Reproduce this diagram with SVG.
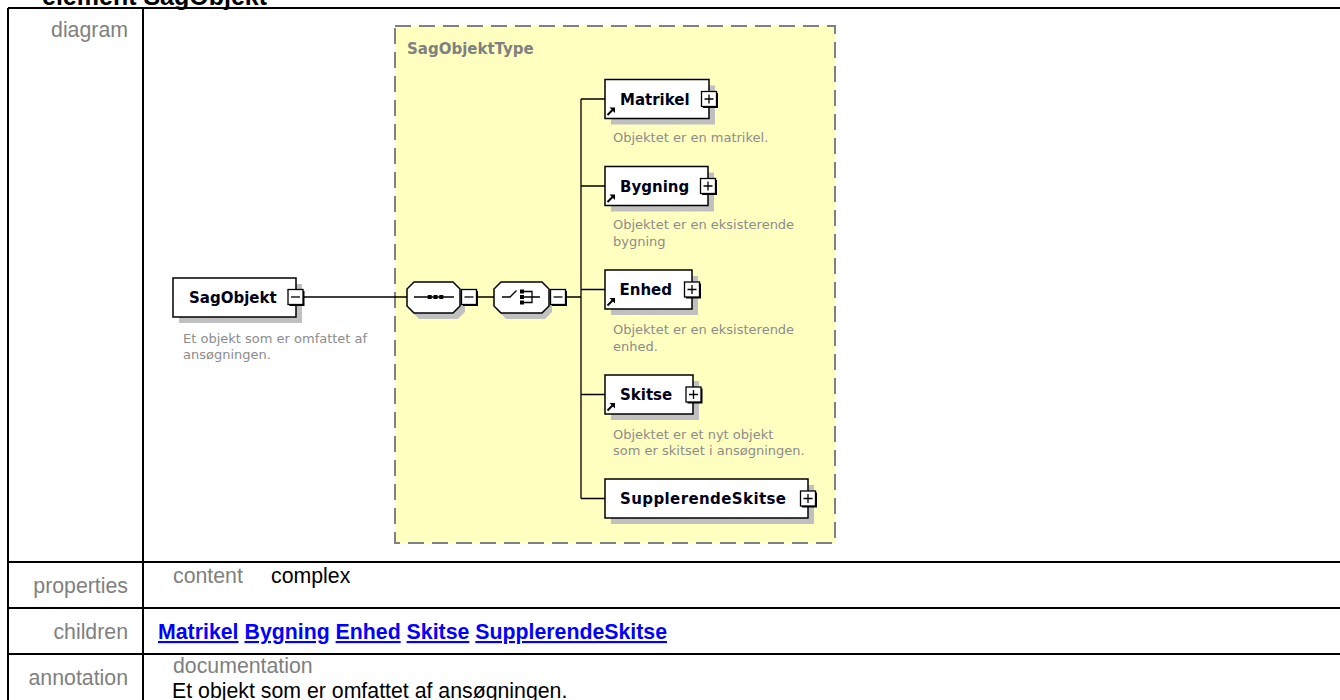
<svg xmlns="http://www.w3.org/2000/svg" xmlns:xlink="http://www.w3.org/1999/xlink" width="1340" height="700" viewBox="0 0 1340 700">
<style>
.title{font-family:"Liberation Sans",Arial,sans-serif;font-weight:bold;font-size:25px;fill:#000}
.lbl{font-family:"Liberation Sans",Arial,sans-serif;font-size:21.3px;fill:#808080}
.val{font-family:"Liberation Sans",Arial,sans-serif;font-size:21.3px;fill:#000}
.lnk{font-family:"Liberation Sans",Arial,sans-serif;font-size:21.3px;font-weight:bold;fill:#0000ff;text-decoration:underline}
.grid{stroke:#000;stroke-width:2;fill:none}
.nm{font-family:"DejaVu Sans",Verdana,sans-serif;font-weight:bold;font-size:15px;fill:#000018}
.tn{font-family:"DejaVu Sans",Verdana,sans-serif;font-weight:bold;font-size:15px;fill:#808080}
.ds{font-family:"DejaVu Sans",Verdana,sans-serif;font-size:13px;fill:#8c8c8c}
.box{fill:#fff;stroke:#000;stroke-width:1.5}
.sh{fill:#c0c0c0}
.conn{stroke:#000;stroke-width:1.3;fill:none}
.ctype{fill:#ffffc0;stroke:#808080;stroke-width:2;stroke-dasharray:16 8}
</style>
<defs>
<g id="btnplus"><rect x="-6" y="-6" width="15" height="15" fill="#000"/><rect x="-7.5" y="-7.5" width="15" height="15" fill="#fff" stroke="#000" stroke-width="1.3"/><path d="M-4.5 0H4.5M0 -4.5V4.5" stroke="#000" stroke-width="1.3"/></g>
<g id="btnminus"><rect x="-6" y="-6" width="15" height="15" fill="#000"/><rect x="-7.5" y="-7.5" width="15" height="15" fill="#fff" stroke="#000" stroke-width="1.3"/><path d="M-4.5 0H4.5" stroke="#000" stroke-width="1.3"/></g>
<g id="refarrow"><path d="M0.5 7.5L5.5 2.5" stroke="#000" stroke-width="2"/><path d="M2.5 0H8V5.5Z" fill="#000"/></g>
</defs>
<rect width="1340" height="700" fill="#fff"/>
<text class="title" x="42" y="4.5">element SagObjekt</text>
<g id="table">
<path class="grid" d="M8 8H1342M8 8V702M143 8V702M8 562H1342M8 608H1342M8 654H1342"/>
<text class="lbl" x="128" y="37" text-anchor="end">diagram</text>
<text class="lbl" x="128" y="593" text-anchor="end">properties</text>
<text class="lbl" x="173" y="583">content</text>
<text class="val" x="271" y="583">complex</text>
<text class="lbl" x="128" y="639" text-anchor="end">children</text>
<text class="lnk" x="158" y="639">Matrikel</text>
<text class="lnk" x="244.5" y="639">Bygning</text>
<text class="lnk" x="335.6" y="639">Enhed</text>
<text class="lnk" x="406.6" y="639">Skitse</text>
<text class="lnk" x="475.3" y="639">SupplerendeSkitse</text>
<text class="lbl" x="128" y="685" text-anchor="end">annotation</text>
<text class="lbl" x="173" y="673">documentation</text>
<text class="val" x="172" y="698">Et objekt som er omfattet af ansøgningen.</text>
</g>
<g id="SagObjektType">
<rect class="ctype" x="395" y="26" width="440" height="517"/>
<text class="tn" x="407" y="54">SagObjektType</text>
</g>
<g id="connectors">
<path class="conn" d="M303 297H407M477 297H494M566 297H581M581 99V498.5M581 99H605M581 186H605M581 289.5H605M581 394.5H605M581 498.5H605"/>
</g>
<g id="SagObjekt">
<rect class="sh" x="179" y="284" width="123" height="39"/>
<rect class="box" x="173" y="278" width="123" height="39"/>
<text class="nm" x="189" y="303">SagObjekt</text>
<use xlink:href="#btnminus" x="295.5" y="297"/>
<text class="ds" x="183" y="342.5">Et objekt som er omfattet af</text>
<text class="ds" x="183" y="359">ansøgningen.</text>
</g>
<g id="sequence">
<path class="sh" d="M419 288H458L465 295V312L458 319H419L412 312V295Z"/>
<path class="box" d="M414 282H453L460 289V306L453 313H414L407 306V289Z"/>
<path d="M414 297H454" stroke="#000" stroke-width="1.3"/>
<rect x="427.7" y="295" width="4" height="4" fill="#000"/>
<rect x="433.5" y="295" width="4" height="4" fill="#000"/>
<rect x="439.3" y="295" width="4" height="4" fill="#000"/>
<use xlink:href="#btnminus" x="469" y="297"/>
</g>
<g id="choice">
<path class="sh" d="M506 288H545L552 295V312L545 319H506L499 312V295Z"/>
<path class="box" d="M501 282H542L549 289V306L542 313H501L494 306V289Z"/>
<path d="M502 297H510L516.5 290.5M524 291.5H532V302.5H524M524 297H540" stroke="#000" stroke-width="1.3" fill="none"/>
<rect x="520" y="289.5" width="4" height="4" fill="#000"/>
<rect x="520" y="295" width="4" height="4" fill="#000"/>
<rect x="520" y="300.5" width="4" height="4" fill="#000"/>
<use xlink:href="#btnminus" x="558" y="297"/>
</g>
<g id="Matrikel">
<rect class="sh" x="611" y="85.5" width="104" height="39"/>
<rect class="box" x="605" y="79.5" width="104" height="39"/>
<text class="nm" x="620" y="104.5">Matrikel</text>
<use xlink:href="#refarrow" x="607" y="107.5"/>
<use xlink:href="#btnplus" x="709" y="99"/>
<text class="ds" x="613" y="142">Objektet er en matrikel.</text>
</g>
<g id="Bygning">
<rect class="sh" x="611" y="172.5" width="103" height="39"/>
<rect class="box" x="605" y="166.5" width="103" height="39"/>
<text class="nm" x="620" y="191.5">Bygning</text>
<use xlink:href="#refarrow" x="607" y="194.5"/>
<use xlink:href="#btnplus" x="708" y="186"/>
<text class="ds" x="613" y="228.5">Objektet er en eksisterende</text>
<text class="ds" x="613" y="245.5">bygning</text>
</g>
<g id="Enhed">
<rect class="sh" x="611" y="276" width="87" height="39"/>
<rect class="box" x="605" y="270" width="87" height="39"/>
<text class="nm" x="619.5" y="295">Enhed</text>
<use xlink:href="#refarrow" x="607" y="298"/>
<use xlink:href="#btnplus" x="692" y="289.5"/>
<text class="ds" x="613" y="334">Objektet er en eksisterende</text>
<text class="ds" x="613" y="351">enhed.</text>
</g>
<g id="Skitse">
<rect class="sh" x="611" y="381" width="88" height="39"/>
<rect class="box" x="605" y="375" width="88" height="39"/>
<text class="nm" x="620" y="400">Skitse</text>
<use xlink:href="#refarrow" x="607" y="403"/>
<use xlink:href="#btnplus" x="693.5" y="394.5"/>
<text class="ds" x="613" y="438.5">Objektet er et nyt objekt</text>
<text class="ds" x="613" y="455">som er skitset i ansøgningen.</text>
</g>
<g id="SupplerendeSkitse">
<rect class="sh" x="611" y="485" width="203" height="39"/>
<rect class="box" x="605" y="479" width="203" height="39"/>
<text class="nm" x="620" y="504" textLength="166">SupplerendeSkitse</text>
<use xlink:href="#btnplus" x="808" y="498.5"/>
</g>
</svg>
